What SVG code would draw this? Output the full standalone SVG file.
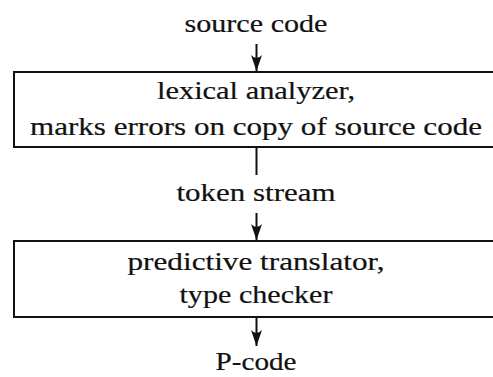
<svg xmlns="http://www.w3.org/2000/svg" width="493" height="377" viewBox="0 0 493 377">
  <style>
    .box { fill: #fff; stroke: #111; stroke-width: 2; }
    .lbl { font-family: "Liberation Serif", "Times New Roman", serif; font-size: 25px; fill: #111; stroke: #111; stroke-width: 0.2; text-anchor: middle; }
    .wire { stroke: #111; stroke-width: 2; fill: none; }
  </style>
  <defs>
    <marker id="head" viewBox="0 0 16 11" refX="16" refY="5.5" markerWidth="16" markerHeight="11" markerUnits="userSpaceOnUse" orient="auto">
      <path d="M0,0 Q6,5.5 0,11 L16,5.5 Z" fill="#111"/>
    </marker>
  </defs>
  <rect width="493" height="377" fill="#fff"/>

  <g id="source-code">
    <text class="lbl" x="256" y="32" textLength="143" lengthAdjust="spacingAndGlyphs">source code</text>
  </g>

  <g id="lexical-analyzer">
    <rect class="box" x="14" y="72" width="486" height="75"/>
    <text class="lbl" x="256" y="99" textLength="198" lengthAdjust="spacingAndGlyphs">lexical analyzer,</text>
    <text class="lbl" x="256" y="135" textLength="452" lengthAdjust="spacingAndGlyphs">marks errors on copy of source code</text>
  </g>

  <g id="token-stream">
    <text class="lbl" x="256" y="201" textLength="159" lengthAdjust="spacingAndGlyphs">token stream</text>
  </g>

  <g id="predictive-translator">
    <rect class="box" x="14" y="241" width="486" height="76"/>
    <text class="lbl" x="256" y="270" textLength="257" lengthAdjust="spacingAndGlyphs">predictive translator,</text>
    <text class="lbl" x="256" y="303" textLength="153" lengthAdjust="spacingAndGlyphs">type checker</text>
  </g>

  <g id="p-code">
    <text class="lbl" x="256" y="370" textLength="81" lengthAdjust="spacingAndGlyphs">P-code</text>
  </g>

  <g id="connectors">
    <line class="wire" x1="256.5" y1="44" x2="256.5" y2="71" marker-end="url(#head)"/>
    <line class="wire" x1="256.5" y1="148" x2="256.5" y2="175"/>
    <line class="wire" x1="256.5" y1="213" x2="256.5" y2="240" marker-end="url(#head)"/>
    <line class="wire" x1="256.5" y1="318" x2="256.5" y2="346" marker-end="url(#head)"/>
  </g>
</svg>
